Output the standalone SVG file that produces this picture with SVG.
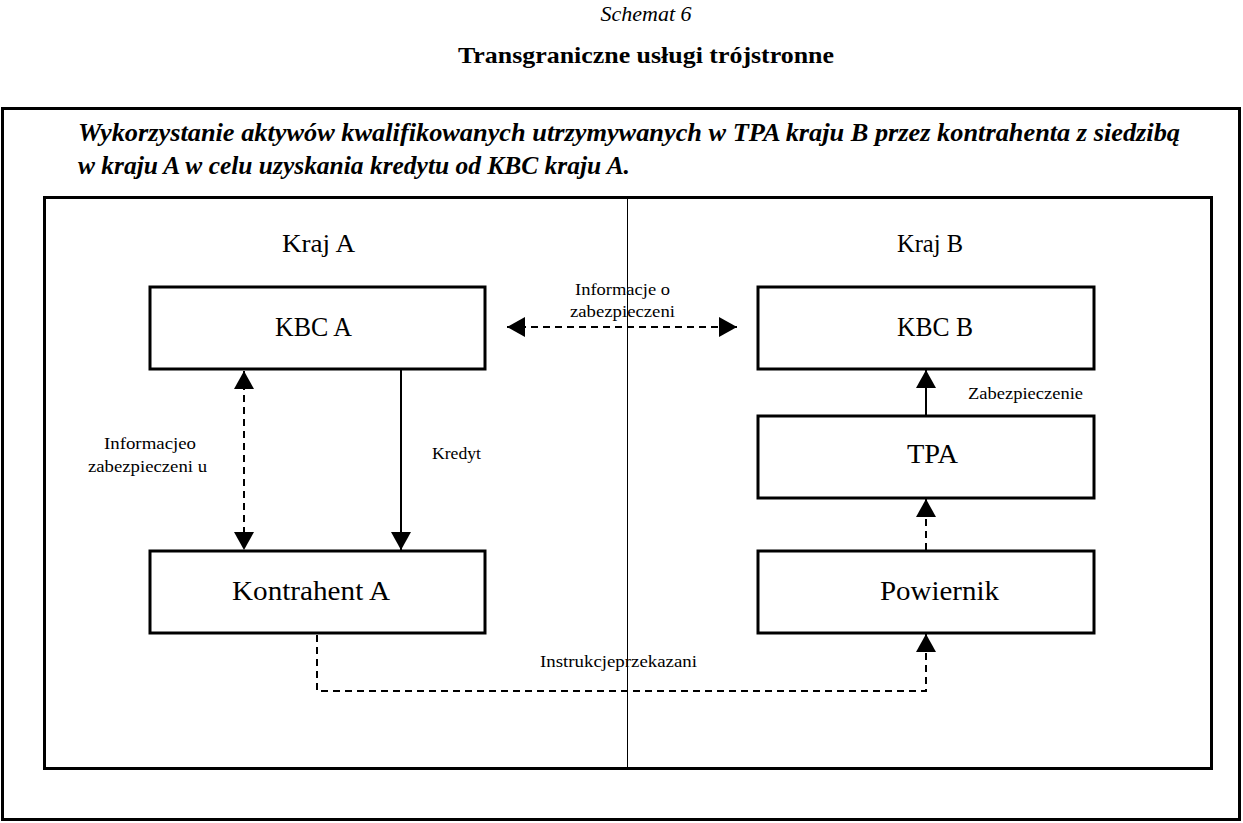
<svg xmlns="http://www.w3.org/2000/svg" width="1243" height="823" viewBox="0 0 1243 823">
<defs>
<style>
.t{font-family:"Liberation Serif","DejaVu Serif",serif;fill:#000}
.box{fill:#fff;stroke:#000;stroke-width:3}
.lbl{font-size:27px;text-anchor:middle}
.sm{font-size:17px}
.ln{fill:none;stroke:#000;stroke-width:2}
.ds{stroke-dasharray:7 5}
</style>
<marker id="ah" markerUnits="userSpaceOnUse" markerWidth="22" markerHeight="22" viewBox="0 0 22 22" refX="20" refY="11" orient="auto-start-reverse">
<path d="M2,1 L20,11 L2,21 Z" fill="#000"/>
</marker>
</defs>
<rect width="1243" height="823" fill="#fff"/>
<text class="t" x="646" y="21" font-size="22" font-style="italic" text-anchor="middle">Schemat 6</text>
<text class="t" x="646" y="63" font-size="23" font-weight="bold" text-anchor="middle" textLength="376" lengthAdjust="spacingAndGlyphs">Transgraniczne usługi trójstronne</text>
<rect x="2.5" y="108.5" width="1237" height="711" fill="none" stroke="#000" stroke-width="3"/>
<text class="t" x="78" y="141" font-size="25" font-weight="bold" font-style="italic" textLength="1102" lengthAdjust="spacingAndGlyphs">Wykorzystanie aktywów kwalifikowanych utrzymywanych w TPA kraju B przez kontrahenta z siedzibą</text>
<text class="t" x="78" y="174" font-size="25" font-weight="bold" font-style="italic" textLength="552" lengthAdjust="spacingAndGlyphs">w kraju A w celu uzyskania kredytu od KBC kraju A.</text>
<rect x="44.5" y="197.5" width="1167" height="571" fill="none" stroke="#000" stroke-width="3"/>
<text class="t" x="282" y="252" font-size="25" textLength="73" lengthAdjust="spacingAndGlyphs">Kraj A</text>
<text class="t" x="897" y="252" font-size="25" textLength="66" lengthAdjust="spacingAndGlyphs">Kraj B</text>
<g id="kbca"><rect class="box" x="150" y="287" width="335" height="82"/><text class="t" font-size="27" x="275" y="336" textLength="77" lengthAdjust="spacingAndGlyphs">KBC A</text></g>
<g id="kbcb"><rect class="box" x="758" y="287" width="336" height="82"/><text class="t" font-size="27" x="897" y="336" textLength="76" lengthAdjust="spacingAndGlyphs">KBC B</text></g>
<g id="tpa"><rect class="box" x="758" y="416" width="336" height="82"/><text class="t" font-size="27" x="907" y="463" textLength="51" lengthAdjust="spacingAndGlyphs">TPA</text></g>
<g id="powiernik"><rect class="box" x="758" y="551" width="336" height="82"/><text class="t" font-size="27" x="880" y="600" textLength="119" lengthAdjust="spacingAndGlyphs">Powiernik</text></g>
<g id="kontrahent"><rect class="box" x="150" y="551" width="335" height="82"/><text class="t" font-size="27" x="232" y="600" textLength="158" lengthAdjust="spacingAndGlyphs">Kontrahent A</text></g>
<g id="connectors">
<line class="ln ds" x1="507" y1="327" x2="737" y2="327" marker-start="url(#ah)" marker-end="url(#ah)"/>
<line class="ln ds" x1="244" y1="371" x2="244" y2="550" marker-start="url(#ah)" marker-end="url(#ah)"/>
<line class="ln" x1="401" y1="370" x2="401" y2="550" marker-end="url(#ah)"/>
<line class="ln" x1="926" y1="416" x2="926" y2="370" marker-end="url(#ah)"/>
<line class="ln ds" x1="926" y1="550" x2="926" y2="499" marker-end="url(#ah)"/>
<polyline class="ln ds" points="317,635 317,691 926,691 926,634" marker-end="url(#ah)"/>
</g>
<g id="labels">
<text class="t sm" x="575" y="295" textLength="95" lengthAdjust="spacingAndGlyphs">Informacje o</text>
<text class="t sm" x="570" y="317" textLength="105" lengthAdjust="spacingAndGlyphs">zabezpieczeni</text>
<text class="t sm" x="104" y="449" textLength="92" lengthAdjust="spacingAndGlyphs">Informacjeo</text>
<text class="t sm" x="88" y="472" textLength="119" lengthAdjust="spacingAndGlyphs">zabezpieczeni u</text>
<text class="t sm" x="432" y="459" textLength="49" lengthAdjust="spacingAndGlyphs">Kredyt</text>
<text class="t sm" x="968" y="399" textLength="115" lengthAdjust="spacingAndGlyphs">Zabezpieczenie</text>
<text class="t sm" x="540" y="667" textLength="157" lengthAdjust="spacingAndGlyphs">Instrukcjeprzekazani</text>
</g>
<line x1="627.5" y1="197" x2="627.5" y2="768" stroke="#000" stroke-width="1"/>
</svg>
